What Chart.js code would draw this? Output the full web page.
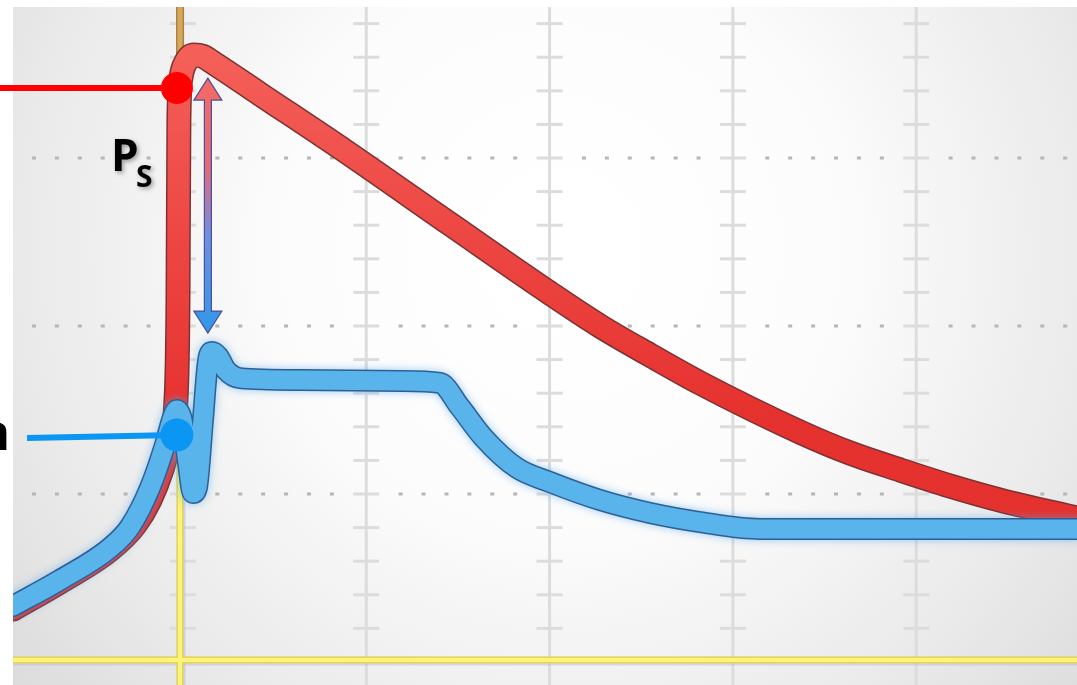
<!DOCTYPE html>
<html>
<head>
<meta charset="utf-8">
<script src="https://cdn.jsdelivr.net/npm/chart.js@4.4.1/dist/chart.umd.min.js"></script>
<style>
  html, body { margin: 0; padding: 0; background: #fff; }
  #scope { display: block; }
</style>
</head>
<body>
<canvas id="scope" width="1077" height="685"></canvas>
<script>
// Pressure traces, in grid divisions (x: time, y: pressure)
const redX  = [-0.927, -0.671, -0.398, -0.262, -0.180, -0.115, -0.071, -0.038, -0.027, -0.022, -0.011, 0.016, 0.060, 0.104, 0.175, 0.420, 0.884, 1.457, 2.002, 2.275, 2.548, 2.821, 3.366, 3.639, 3.912, 4.184, 4.457, 4.877];
const redY  = [0.315, 0.476, 0.667, 0.815, 0.964, 1.143, 1.321, 1.560, 2.155, 3.226, 3.476, 3.571, 3.613, 3.607, 3.560, 3.381, 3.042, 2.607, 2.196, 2.000, 1.827, 1.661, 1.369, 1.244, 1.143, 1.048, 0.964, 0.857];

const blueX = [-0.927, -0.671, -0.398, -0.289, -0.180, -0.098, -0.060, -0.033, -0.005, 0.027, 0.055, 0.076, 0.109, 0.136, 0.158, 0.191, 0.235, 0.311, 0.638, 1.184, 1.402, 1.511, 1.637, 1.822, 2.002, 2.275, 2.548, 2.821, 3.148, 4.877];
const blueY = [0.333, 0.488, 0.679, 0.804, 1.036, 1.292, 1.440, 1.500, 1.440, 1.190, 1.006, 1.036, 1.440, 1.786, 1.845, 1.821, 1.738, 1.690, 1.679, 1.673, 1.661, 1.518, 1.339, 1.155, 1.071, 0.964, 0.887, 0.833, 0.792, 0.792];

// grid divisions
const xMajor = [0, 1, 2, 3, 4];
const yMajor = [1, 2, 3];
const minorStep = 0.2;

// markers
const redMarker  = { x: -0.033, y: 3.417 };
const blueMarker = { x: -0.033, y: 1.351 };
const psArrow = { x: 0.136, top: 3.476, bottom: 1.958 };
const cursorX = -0.016;
const cursorY = 0.012;

const toPoints = (xs, ys) => xs.map((x, i) => ({ x: x, y: ys[i] }));
const redData = toPoints(redX, redY);
const blueData = toPoints(blueX, blueY);

const backdrop = {
    id: 'backdrop',
    beforeDraw(chart) {
        const { ctx, chartArea: a, width, height } = chart;
        ctx.save();
        ctx.fillStyle = '#ffffff';
        ctx.fillRect(0, 0, width, height);
        const g = ctx.createRadialGradient(560, 250, 40, 560, 250, 720);
        g.addColorStop(0, '#ffffff');
        g.addColorStop(0.35, '#fcfcfc');
        g.addColorStop(0.75, '#e9e9e9');
        g.addColorStop(1, '#dadada');
        ctx.fillStyle = g;
        ctx.fillRect(a.left, a.top, a.right - a.left, a.bottom - a.top);
        ctx.restore();
    },
    beforeDatasetsDraw(chart) {
        const { ctx, chartArea: a, scales: { x, y } } = chart;
        ctx.save();
        ctx.beginPath();
        ctx.rect(a.left, a.top, a.right - a.left, a.bottom - a.top);
        ctx.clip();

        // vertical grid lines with minor ticks
        ctx.strokeStyle = '#dcdcdc';
        ctx.lineWidth = 3;
        xMajor.forEach(v => {
            const px = x.getPixelForValue(v);
            ctx.beginPath();
            ctx.moveTo(px, a.top);
            ctx.lineTo(px, a.bottom);
            ctx.stroke();
            for (let k = 1; k * minorStep <= y.max; k++) {
                const py = y.getPixelForValue(k * minorStep);
                ctx.beginPath();
                ctx.moveTo(px - 13, py);
                ctx.lineTo(px + 13, py);
                ctx.stroke();
            }
        });

        // dotted horizontal lines
        ctx.fillStyle = '#b6b6b6';
        yMajor.forEach(v => {
            const py = y.getPixelForValue(v);
            for (let g = -1; g < 5; g++) {
                for (let j = 1.5; j < 7; j += 1) {
                    const px = x.getPixelForValue(g + j / 8);
                    if (px > a.left + 8) ctx.fillRect(px - 2, py - 1.5, 4, 3);
                }
            }
        });

        // cursor lines
        const cx = x.getPixelForValue(cursorX);
        const cy = y.getPixelForValue(cursorY);
        const split = y.getPixelForValue(1.4);
        ctx.lineCap = 'butt';
        // upper part of the vertical cursor (tinted)
        ctx.strokeStyle = '#a98343';
        ctx.lineWidth = 8;
        ctx.beginPath(); ctx.moveTo(cx, a.top); ctx.lineTo(cx, split); ctx.stroke();
        ctx.strokeStyle = '#d8a95a';
        ctx.lineWidth = 5;
        ctx.beginPath(); ctx.moveTo(cx, a.top); ctx.lineTo(cx, split); ctx.stroke();

        // yellow lower part + horizontal
        ctx.strokeStyle = 'rgba(180,180,230,0.45)';
        ctx.lineWidth = 9;
        ctx.beginPath(); ctx.moveTo(a.left, cy + 1); ctx.lineTo(a.right, cy + 1); ctx.stroke();
        ctx.beginPath(); ctx.moveTo(cx + 1, split); ctx.lineTo(cx + 1, a.bottom); ctx.stroke();
        ctx.strokeStyle = '#e6d84e';
        ctx.lineWidth = 7;
        ctx.beginPath(); ctx.moveTo(a.left, cy); ctx.lineTo(a.right, cy); ctx.stroke();
        ctx.beginPath(); ctx.moveTo(cx, split); ctx.lineTo(cx, a.bottom); ctx.stroke();
        ctx.strokeStyle = '#fbf37c';
        ctx.lineWidth = 4;
        ctx.beginPath(); ctx.moveTo(a.left, cy); ctx.lineTo(a.right, cy); ctx.stroke();
        ctx.beginPath(); ctx.moveTo(cx, split); ctx.lineTo(cx, a.bottom); ctx.stroke();
        ctx.restore();
    },
    beforeDatasetDraw(chart, args) {
        if (args.index === 1) {
            chart.ctx.save();
            chart.ctx.shadowColor = 'rgba(90,170,235,0.6)';
            chart.ctx.shadowBlur = 8;
        }
    },
    afterDatasetDraw(chart, args) {
        if (args.index === 1) chart.ctx.restore();
    },
    afterDatasetsDraw(chart) {
        const { ctx, scales: { x, y } } = chart;
        ctx.save();

        // pressure arrow
        const ax = x.getPixelForValue(psArrow.x);
        const at = y.getPixelForValue(psArrow.top);
        const ab = y.getPixelForValue(psArrow.bottom);
        const hw = 14, hh = 22, sw = 3.5;
        const grad = ctx.createLinearGradient(0, at, 0, ab);
        grad.addColorStop(0, '#f46a64');
        grad.addColorStop(0.35, '#e36a7a');
        grad.addColorStop(0.62, '#6f8fe0');
        grad.addColorStop(1, '#2f98ea');
        ctx.beginPath();
        ctx.moveTo(ax, at);
        ctx.lineTo(ax + hw, at + hh);
        ctx.lineTo(ax + sw, at + hh);
        ctx.lineTo(ax + sw, ab - hh);
        ctx.lineTo(ax + hw, ab - hh);
        ctx.lineTo(ax, ab);
        ctx.lineTo(ax - hw, ab - hh);
        ctx.lineTo(ax - sw, ab - hh);
        ctx.lineTo(ax - sw, at + hh);
        ctx.lineTo(ax - hw, at + hh);
        ctx.closePath();
        ctx.fillStyle = grad;
        ctx.fill();
        ctx.strokeStyle = '#4a4f98';
        ctx.lineWidth = 1.2;
        ctx.stroke();

        // leader lines and dots
        const rx = x.getPixelForValue(redMarker.x), ry = y.getPixelForValue(redMarker.y);
        const bx = x.getPixelForValue(blueMarker.x), by = y.getPixelForValue(blueMarker.y);
        ctx.lineCap = 'butt';
        ctx.strokeStyle = '#ff0000';
        ctx.lineWidth = 6;
        ctx.beginPath(); ctx.moveTo(0, ry); ctx.lineTo(rx, ry); ctx.stroke();
        ctx.fillStyle = '#ff0000';
        ctx.beginPath(); ctx.arc(rx, ry, 16, 0, Math.PI * 2); ctx.fill();

        ctx.strokeStyle = '#0a96f2';
        ctx.beginPath(); ctx.moveTo(27, by + 3); ctx.lineTo(bx, by); ctx.stroke();
        ctx.fillStyle = '#0a96f2';
        ctx.beginPath(); ctx.arc(bx, by, 16.5, 0, Math.PI * 2); ctx.fill();

        // labels
        ctx.fillStyle = '#000';
        ctx.textBaseline = 'alphabetic';
        ctx.shadowColor = 'rgba(0,0,0,0.35)';
        ctx.shadowBlur = 4;
        ctx.shadowOffsetX = 2;
        ctx.shadowOffsetY = 2;
        ctx.textAlign = 'left';
        ctx.font = 'bold 44px "Open Sans"';
        ctx.fillText('P', 111, 171);
        ctx.font = 'bold 30px "Open Sans"';
        ctx.fillText('S', 136, 187);
        ctx.shadowColor = 'transparent';
        ctx.textAlign = 'right';
        ctx.font = 'bold 50px "Open Sans"';
        ctx.fillText('n', 10, 450);
        ctx.restore();
    }
};

const redGradient = (c) => {
    const { ctx, chartArea } = c.chart;
    if (!chartArea) return '#ea3c3a';
    const g = ctx.createLinearGradient(0, chartArea.top, 0, chartArea.bottom);
    g.addColorStop(0.0, '#f6665e');
    g.addColorStop(0.3, '#ee4a46');
    g.addColorStop(0.6, '#e6322f');
    g.addColorStop(1.0, '#e2302c');
    return g;
};

const lineStyle = {
    pointRadius: 0,
    fill: false,
    cubicInterpolationMode: 'monotone',
    borderCapStyle: 'round',
    borderJoinStyle: 'round',
    clip: 0
};

new Chart(document.getElementById('scope').getContext('2d'), {
    type: 'line',
    data: {
        datasets: [
            Object.assign({ label: 'Blue trace', data: blueData, borderColor: '#58b4ea', borderWidth: 19, order: 0 }, lineStyle),
            Object.assign({ label: 'Blue edge', data: blueData, borderColor: '#2f5f96', borderWidth: 22, order: 1 }, lineStyle),
            Object.assign({ label: 'Red trace', data: redData, borderColor: redGradient, borderWidth: 22, order: 2 }, lineStyle),
            Object.assign({ label: 'Red edge', data: redData, borderColor: '#7c3232', borderWidth: 25, order: 3 }, lineStyle)
        ]
    },
    options: {
        responsive: false,
        animation: false,
        layout: { padding: { left: 13, top: 7, right: 0, bottom: 0 } },
        plugins: { legend: { display: false }, tooltip: { enabled: false } },
        scales: {
            x: { type: 'linear', display: false, min: -0.927, max: 4.877 },
            y: { type: 'linear', display: false, min: -0.137, max: 3.899 }
        }
    },
    plugins: [backdrop]
});
</script>
</body>
</html>
